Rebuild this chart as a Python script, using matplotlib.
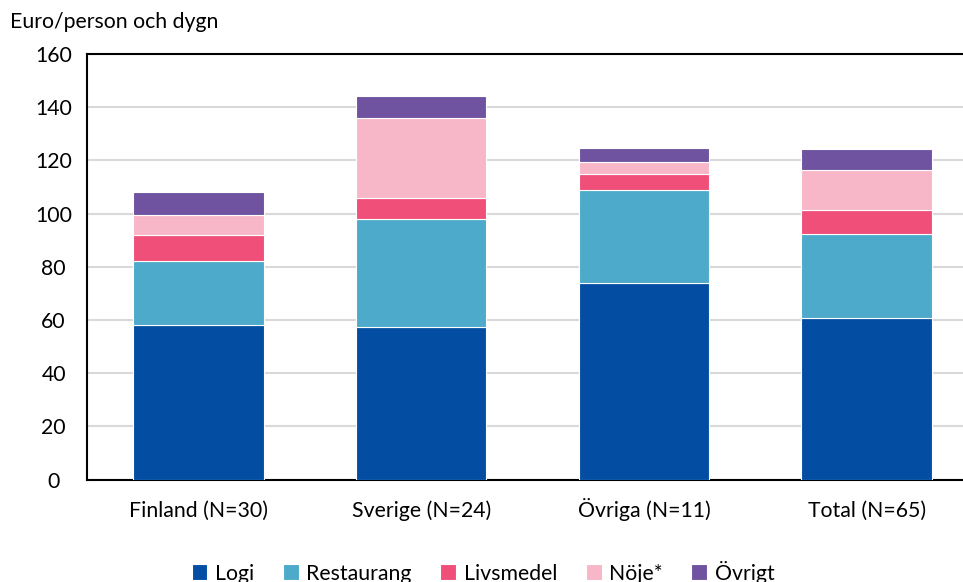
import matplotlib
matplotlib.use("Agg")
import matplotlib.pyplot as plt
import numpy as np

plt.rcParams['font.family'] = ['Lato', 'DejaVu Sans']

categories = ["Finland (N=30)", "Sverige (N=24)", "Övriga (N=11)", "Total (N=65)"]
series_names = ["Logi", "Restaurang", "Livsmedel", "Nöje*", "Övrigt"]
logi = [58.2, 57.3, 73.9, 60.6]
restaurang = [23.8, 40.6, 35.0, 31.9]
livsmedel = [10.0, 8.1, 6.1, 8.7]
noje = [7.3, 30.0, 4.4, 15.1]
ovrigt = [8.9, 8.1, 5.2, 7.9]
colors = ["#034EA2", "#4DAACB", "#EF4F78", "#F8B7C8", "#6F52A0"]
yticks = [0, 20, 40, 60, 80, 100, 120, 140, 160]

FS = 15.3

fig = plt.figure(figsize=(9.63, 5.82), dpi=100)
ax = fig.add_axes([87/963, 1-479.5/582, (978-87)/963, (479.5-54)/582])

x = np.arange(len(categories))
bottom = np.zeros(len(categories))
for name, vals, c in zip(series_names, [logi, restaurang, livsmedel, noje, ovrigt], colors):
    ax.bar(x, vals, width=0.585, bottom=bottom, color=c, edgecolor='white', linewidth=0.8, label=name, zorder=3)
    bottom += np.array(vals)

ax.set_xlim(-0.5, 3.5)
ax.set_ylim(0, 160)
ax.set_yticks(yticks)
ax.set_xticks(x)
ax.set_xticklabels(categories)
ax.yaxis.grid(True, color='#d9d9d9', linewidth=1.5, zorder=0)
ax.set_axisbelow(True)
ax.spines['right'].set_visible(False)
for s in ['left', 'top', 'bottom']:
    ax.spines[s].set_linewidth(1.5)
    ax.spines[s].set_color('black')
ax.tick_params(axis='both', length=0, labelsize=FS, colors='black')
ax.tick_params(axis='x', pad=27)
ax.tick_params(axis='y', pad=24)
for lab in ax.get_xticklabels():
    lab.set_verticalalignment('baseline')
for lab in ax.get_yticklabels():
    lab.set_horizontalalignment('center')

fig.text(10/963, 1-22/582, "Euro/person och dygn", fontsize=FS, va='center', ha='left')

leg = fig.legend(loc='center', bbox_to_anchor=(483/963, 1-572/582), ncol=5, frameon=False,
                 fontsize=FS, handlelength=0.75, handleheight=0.75, handletextpad=0.35, columnspacing=1.35)

fig.savefig("out.png", dpi=100)
